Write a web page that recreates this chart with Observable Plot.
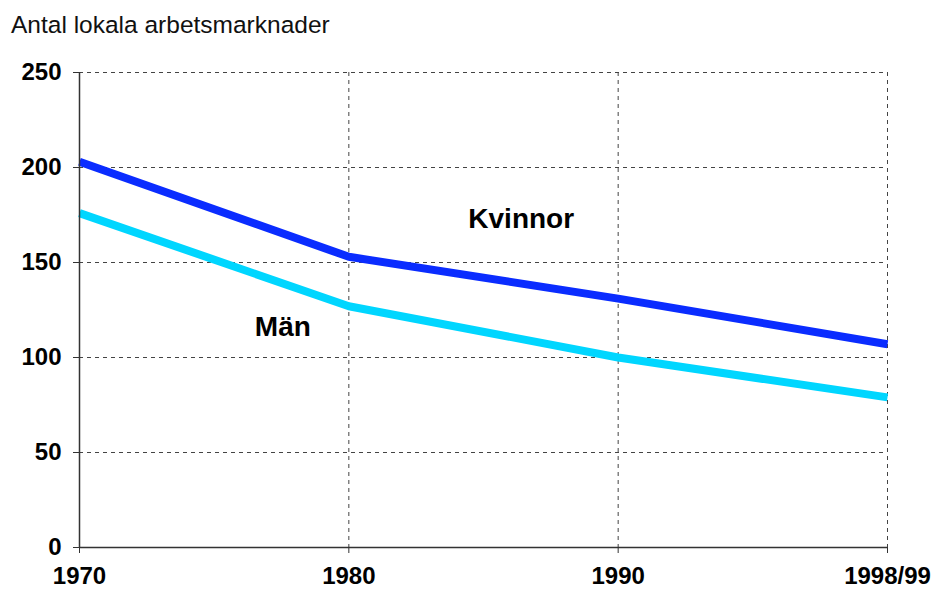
<!DOCTYPE html>
<html><head><meta charset="utf-8">
<script src="https://cdn.jsdelivr.net/npm/d3@7"></script>
<script src="https://cdn.jsdelivr.net/npm/@observablehq/plot@0.6"></script>
<style>
body{margin:0;background:#fff;font-family:"Liberation Sans",Arial,sans-serif;}
#title{height:52px;box-sizing:border-box;padding:12px 0 0 11px;font-size:24.5px;line-height:25px;color:#111;white-space:nowrap;}
#chart svg g[aria-label$="tick label"] text{font-weight:bold;}
</style></head><body>
<div id="title">Antal lokala arbetsmarknader</div>
<div id="chart"></div>
<script>
const years = ["1970", "1980", "1990", "1998/99"];
const kvinnor = [203, 153, 131, 107];
const man = [176, 127, 100, 79];
const yTicks = [0, 50, 100, 150, 200, 250];
const labelText = ["Kvinnor", "Män"];
const labelPos = [1.64, 0.755];
const labelValue = [168, 111.5];

const kData = years.map((y, i) => ({i, v: kvinnor[i]}));
const mData = years.map((y, i) => ({i, v: man[i]}));
const labels = labelText.map((t, j) => ({text: t, pos: labelPos[j], value: labelValue[j]}));

const gridStyle = {stroke: "#444", strokeOpacity: 1, strokeWidth: 1, strokeDasharray: "4,4"};

const chart = Plot.plot({
  width: 936,
  height: 538,
  marginTop: 20,
  marginBottom: 43,
  marginLeft: 79,
  marginRight: 49,
  style: {fontFamily: "'Liberation Sans', Arial, sans-serif", color: "#000", background: "#fff", overflow: "visible"},
  x: {type: "linear", domain: [0, years.length - 1]},
  y: {domain: [0, 250]},
  marks: [
    Plot.gridY(yTicks.filter(v => v > 0), gridStyle),
    Plot.gridX([1, 2, 3], gridStyle),
    Plot.line(mData, {x: "i", y: "v", stroke: "#00d6ff", strokeWidth: 8, strokeLinejoin: "miter", strokeLinecap: "butt"}),
    Plot.line(kData, {x: "i", y: "v", stroke: "#0a2cff", strokeWidth: 8, strokeLinejoin: "miter", strokeLinecap: "butt"}),
    Plot.ruleX([0], {stroke: "#333", strokeWidth: 1.5}),
    Plot.ruleY([0], {stroke: "#333", strokeWidth: 1.5}),
    Plot.axisY({ticks: yTicks, tickSize: 6, tickPadding: 12, fontSize: 24, fontWeight: "bold", label: null, stroke: "#333"}),
    Plot.axisX({ticks: [0, 1, 2, 3], tickFormat: i => years[i], tickSize: 6, tickPadding: 13, fontSize: 24, fontWeight: "bold", label: null, stroke: "#333"}),
    Plot.text(labels, {x: "pos", y: "value", text: "text", fontSize: 28, fontWeight: "bold", lineAnchor: "bottom", textAnchor: "middle", fill: "#000"})
  ]
});
document.getElementById("chart").appendChild(chart);
</script>
</body></html>
